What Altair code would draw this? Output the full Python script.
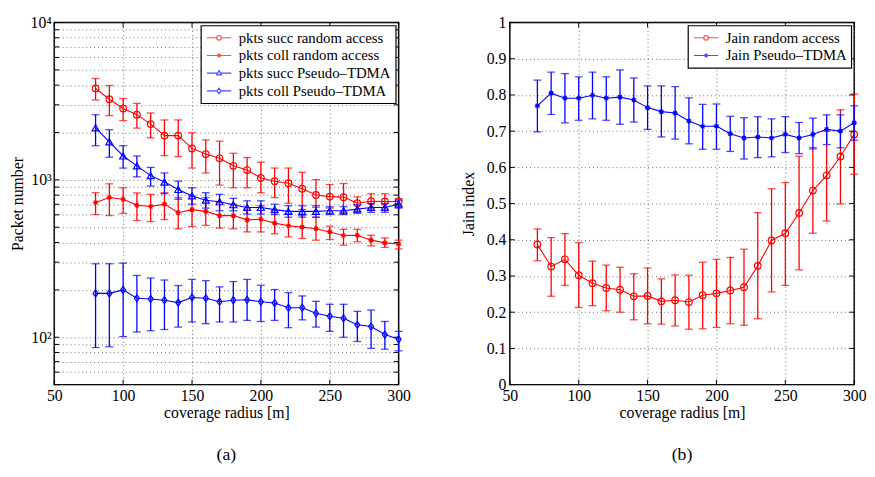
import altair as alt
import pandas as pd

FONT = "Liberation Serif, Times New Roman, DejaVu Serif, serif"
RED = "#ff0000"
BLUE = "#0000ff"

# ---------------- data: panel (a) ----------------
x_left = [80, 90, 100, 110, 120, 130, 140, 150, 160, 170, 180, 190, 200,
          210, 220, 230, 240, 250, 260, 270, 280, 290, 300]

succ_ra = [3811, 3254, 2845, 2597, 2262, 1911, 1911, 1585, 1460, 1372, 1229, 1155,
           1029, 981, 953, 879, 802, 783, 777, 711, 732, 729, 729]
succ_ra_lo = [3220, 2560, 2382, 2133, 1849, 1426, 1406, 1189, 1107, 927, 891, 891,
              829, 772, 711, 649, 668, 662, 622, 631, 652, 652, 685]
succ_ra_hi = [4406, 3981, 3289, 3062, 2661, 2404, 2404, 1995, 1795, 1762, 1476, 1387,
              1296, 1189, 1189, 1117, 1004, 935, 948, 780, 817, 817, 760]

coll_ra = [718, 772, 753, 690, 678, 701, 619, 647, 631, 593, 593, 557,
           562, 531, 511, 501, 489, 467, 443, 445, 414, 398, 391]
coll_ra_lo = [602, 593, 613, 552, 544, 560, 489, 506, 514, 494, 489, 467,
              467, 455, 434, 424, 414, 418, 385, 404, 381, 372, 364]
coll_ra_hi = [829, 944, 891, 826, 809, 829, 772, 791, 772, 718, 701, 652,
              685, 637, 607, 593, 579, 508, 485, 485, 445, 428, 414]

succ_pt = [2143, 1746, 1419, 1228, 1064, 968, 869, 791, 743, 726, 695, 668,
           668, 647, 631, 631, 631, 637, 637, 652, 668, 668, 701]
succ_pt_lo = [1648, 1393, 1189, 1045, 914, 817, 753, 701, 662, 637, 637, 607,
              607, 602, 579, 579, 579, 602, 602, 613, 622, 622, 662]
succ_pt_hi = [2594, 2084, 1648, 1419, 1200, 1107, 981, 891, 829, 809, 764, 736,
              736, 701, 685, 685, 685, 675, 675, 695, 708, 708, 743]

coll_pt = [190, 190, 200, 177, 175, 172, 166, 179, 177, 168, 172, 173,
           168, 165, 154, 154, 142, 136, 132, 120, 117, 104, 97]
coll_pt_lo = [86, 87, 101, 108, 110, 112, 116, 125, 122, 125, 125, 128,
              126, 128, 115, 129, 116, 109, 100, 94, 85, 84, 82]
coll_pt_hi = [293, 293, 296, 247, 238, 231, 213, 233, 229, 209, 226, 233,
              214, 201, 192, 183, 169, 162, 162, 146, 149, 126, 109]

names_left = ["pkts succ random access", "pkts coll random access",
              "pkts succ Pseudo\u2013TDMA", "pkts coll Pseudo\u2013TDMA"]

# ---------------- data: panel (b) ----------------
x_right = [70, 80, 90, 100, 110, 120, 130, 140, 150, 160, 170, 180, 190, 200,
           210, 220, 230, 240, 250, 260, 270, 280, 290, 300]

jain_ra = [0.387, 0.326, 0.346, 0.302, 0.280, 0.267, 0.262, 0.244, 0.245, 0.230, 0.233, 0.228,
           0.247, 0.252, 0.260, 0.269, 0.328, 0.398, 0.418, 0.474, 0.536, 0.578, 0.630, 0.691]
jain_ra_lo = [0.342, 0.244, 0.274, 0.213, 0.218, 0.204, 0.200, 0.179, 0.168, 0.167, 0.162, 0.153,
              0.154, 0.158, 0.168, 0.164, 0.182, 0.256, 0.274, 0.317, 0.418, 0.452, 0.499, 0.581]
jain_ra_hi = [0.430, 0.406, 0.417, 0.392, 0.341, 0.330, 0.324, 0.306, 0.322, 0.292, 0.303, 0.302,
              0.338, 0.346, 0.351, 0.374, 0.475, 0.541, 0.558, 0.631, 0.655, 0.700, 0.759, 0.802]

jain_pt = [0.770, 0.805, 0.791, 0.791, 0.799, 0.791, 0.794, 0.786, 0.765, 0.754, 0.750, 0.728,
           0.713, 0.714, 0.693, 0.681, 0.684, 0.681, 0.691, 0.681, 0.691, 0.705, 0.700, 0.723]
jain_pt_lo = [0.698, 0.746, 0.723, 0.730, 0.734, 0.730, 0.719, 0.725, 0.705, 0.684, 0.678, 0.665,
              0.650, 0.650, 0.644, 0.623, 0.627, 0.629, 0.641, 0.638, 0.651, 0.663, 0.654, 0.675]
jain_pt_hi = [0.841, 0.863, 0.859, 0.850, 0.863, 0.850, 0.869, 0.847, 0.825, 0.825, 0.823, 0.792,
              0.774, 0.775, 0.741, 0.737, 0.740, 0.734, 0.740, 0.724, 0.736, 0.745, 0.745, 0.770]

names_right = ["Jain random access", "Jain Pseudo\u2013TDMA"]

# ---------------- tick values ----------------
x_ticks = [50, 100, 150, 200, 250, 300]
y_log_ticks = [50, 60, 70, 80, 90, 100, 200, 300, 400, 500, 600, 700, 800, 900,
               1000, 2000, 3000, 4000, 5000, 6000, 7000, 8000, 9000, 10000]
y_lin_ticks = [0, 0.1, 0.2, 0.3, 0.4, 0.5, 0.6, 0.7, 0.8, 0.9, 1]

# ---------------- marker shapes (style) ----------------
STAR = "M-1,0L1,0M0,-1L0,1M-0.7,-0.7L0.7,0.7M-0.7,0.7L0.7,-0.7"
DIAM = "M0,-1.2L0.85,0L0,1.2L-0.85,0Z"
LEG_CIRCLE = "M-1.75,0L-0.33,0M0.33,0L1.75,0M-0.33,0A0.33,0.33 0 1,0 0.33,0A0.33,0.33 0 1,0 -0.33,0Z"
LEG_STAR = "M-1.75,0L1.75,0M0,-0.3L0,0.3M-0.21,-0.21L0.21,0.21M-0.21,0.21L0.21,-0.21"
LEG_TRI = "M-1.75,0L-0.21,0M0.21,0L1.75,0M0,-0.38L0.35,0.25L-0.35,0.25Z"
LEG_DIAM = "M-1.75,0L-0.3,0M0.3,0L1.75,0M0,-0.4L0.3,0L0,0.4L-0.3,0Z"


def long_df(x, names, groups):
    rows = []
    for name, (m, lo, hi) in zip(names, groups):
        for xi, a, b, c in zip(x, m, lo, hi):
            rows.append({"series": name, "x": xi, "mean": a, "lo": b, "hi": c})
    return pd.DataFrame(rows)


df_left = long_df(x_left, names_left, [
    (succ_ra, succ_ra_lo, succ_ra_hi),
    (coll_ra, coll_ra_lo, coll_ra_hi),
    (succ_pt, succ_pt_lo, succ_pt_hi),
    (coll_pt, coll_pt_lo, coll_pt_hi),
])
df_right = long_df(x_right, names_right, [
    (jain_ra, jain_ra_lo, jain_ra_hi),
    (jain_pt, jain_pt_lo, jain_pt_hi),
])

W, H = 350, 368
TICK = 5
GRID = dict(grid=True, gridDash=[1, 3], gridColor="#6a6a6a", gridWidth=1)
LABELS = dict(labelFont=FONT, labelFontSize=16, labelColor="black",
              titleFont=FONT, titleFontSize=16, titleFontWeight="normal", titleColor="black")


def panel(df, names, colors, markers, sizes, leg_paths, yscale, yaxis_main, y_vals, title):
    xscale = alt.Scale(domain=[50, 300], nice=False, zero=False)
    xaxis = alt.Axis(values=x_ticks, title="coverage radius [m]", domain=False, ticks=False,
                     labelPadding=3, titlePadding=1, labelFlush=False, **GRID, **LABELS)

    def xenc(field="x"):
        return alt.X(field + ":Q", scale=xscale, axis=xaxis)

    def yenc(field):
        return alt.Y(field + ":Q", scale=yscale, axis=yaxis_main)

    layers = []
    for name, col, mk, sz in zip(names, colors, markers, sizes):
        base = alt.Chart(df).transform_filter(alt.datum.series == name)
        layers.append(base.mark_rule(color=col, strokeWidth=1.3).encode(
            x=xenc(), y=yenc("lo"), y2=alt.Y2("hi:Q")))
        layers.append(base.mark_tick(color=col, orient="horizontal", size=8, thickness=1.3).encode(
            x=xenc(), y=yenc("lo")))
        layers.append(base.mark_tick(color=col, orient="horizontal", size=8, thickness=1.3).encode(
            x=xenc(), y=yenc("hi")))
        layers.append(base.mark_line(color=col, strokeWidth=1.1).encode(x=xenc(), y=yenc("mean")))
        layers.append(base.mark_point(shape=mk, size=sz, color=col, filled=False,
                                      strokeWidth=1.2, opacity=1).encode(x=xenc(), y=yenc("mean")))

    # inward tick marks on all four sides, positioned by the scales
    xt = pd.DataFrame({"v": x_ticks})
    yt = pd.DataFrame({"v": y_vals})
    tick_style = dict(color="black", strokeWidth=1)
    layers.append(alt.Chart(xt).mark_rule(**tick_style).encode(
        x=xenc("v"), y=alt.value(0), y2=alt.value(TICK)))
    layers.append(alt.Chart(xt).mark_rule(**tick_style).encode(
        x=xenc("v"), y=alt.value(H - TICK), y2=alt.value(H)))
    layers.append(alt.Chart(yt).mark_rule(**tick_style).encode(
        y=yenc("v"), x=alt.value(0), x2=alt.value(TICK)))
    layers.append(alt.Chart(yt).mark_rule(**tick_style).encode(
        y=yenc("v"), x=alt.value(W - TICK), x2=alt.value(W)))

    leg = alt.Legend(title=None, orient="top-right", offset=3, padding=4.5,
                     strokeColor="black", fillColor="white", cornerRadius=0,
                     labelFont=FONT, labelFontSize=15, labelColor="black",
                     symbolSize=200, symbolStrokeWidth=1.2, symbolOffset=6,
                     labelOffset=12, rowPadding=2)
    legend_layer = alt.Chart(df).transform_filter("datum.x < 0").mark_point(
        filled=False, size=200, strokeWidth=1.2).encode(
        x=xenc(), y=yenc("mean"),
        color=alt.Color("series:N", scale=alt.Scale(domain=names, range=colors), legend=leg),
        shape=alt.Shape("series:N", scale=alt.Scale(domain=names, range=leg_paths), legend=leg),
    )
    layers.append(legend_layer)
    return alt.layer(*layers).properties(
        width=W, height=H,
        title=alt.TitleParams(text=title, orient="bottom", anchor="middle", font=FONT,
                              fontSize=18, fontWeight="normal", color="black", offset=27))


yaxis_left = alt.Axis(values=y_log_ticks, title="Packet number", domain=False, ticks=False,
                      labelPadding=3, titlePadding=5, labelOverlap=False,
                      labelExpr="datum.value == 100 ? '10\u00b2' : datum.value == 1000 ? '10\u00b3' : datum.value == 10000 ? '10\u2074' : ''",
                      **GRID, **LABELS)
left = panel(df_left, names_left, [RED, RED, BLUE, BLUE],
             ["circle", STAR, "triangle-up", DIAM], [45, 30, 50, 36],
             [LEG_CIRCLE, LEG_STAR, LEG_TRI, LEG_DIAM],
             alt.Scale(type="log", domain=[50, 10000], nice=False),
             yaxis_left, y_log_ticks, "(a)")

yaxis_right = alt.Axis(values=y_lin_ticks, title="Jain index", domain=False, ticks=False,
                       labelPadding=4, titlePadding=10, format="~g", **GRID, **LABELS)
right = panel(df_right, names_right, [RED, BLUE],
              ["circle", STAR], [45, 30],
              [LEG_CIRCLE, LEG_STAR],
              alt.Scale(domain=[0, 1], nice=False, zero=True),
              yaxis_right, y_lin_ticks, "(b)")

chart = alt.hconcat(left, right, spacing=49).resolve_scale(
    x="independent", y="independent", color="independent", shape="independent"
).resolve_legend(color="independent", shape="independent").properties(
    padding={"left": 0, "top": 2, "right": 0, "bottom": 0}
).configure_view(stroke="black", strokeWidth=1.5).configure_legend(strokeWidth=1.2)

chart.save("out.html", embed_options={"renderer": "svg", "actions": False})
